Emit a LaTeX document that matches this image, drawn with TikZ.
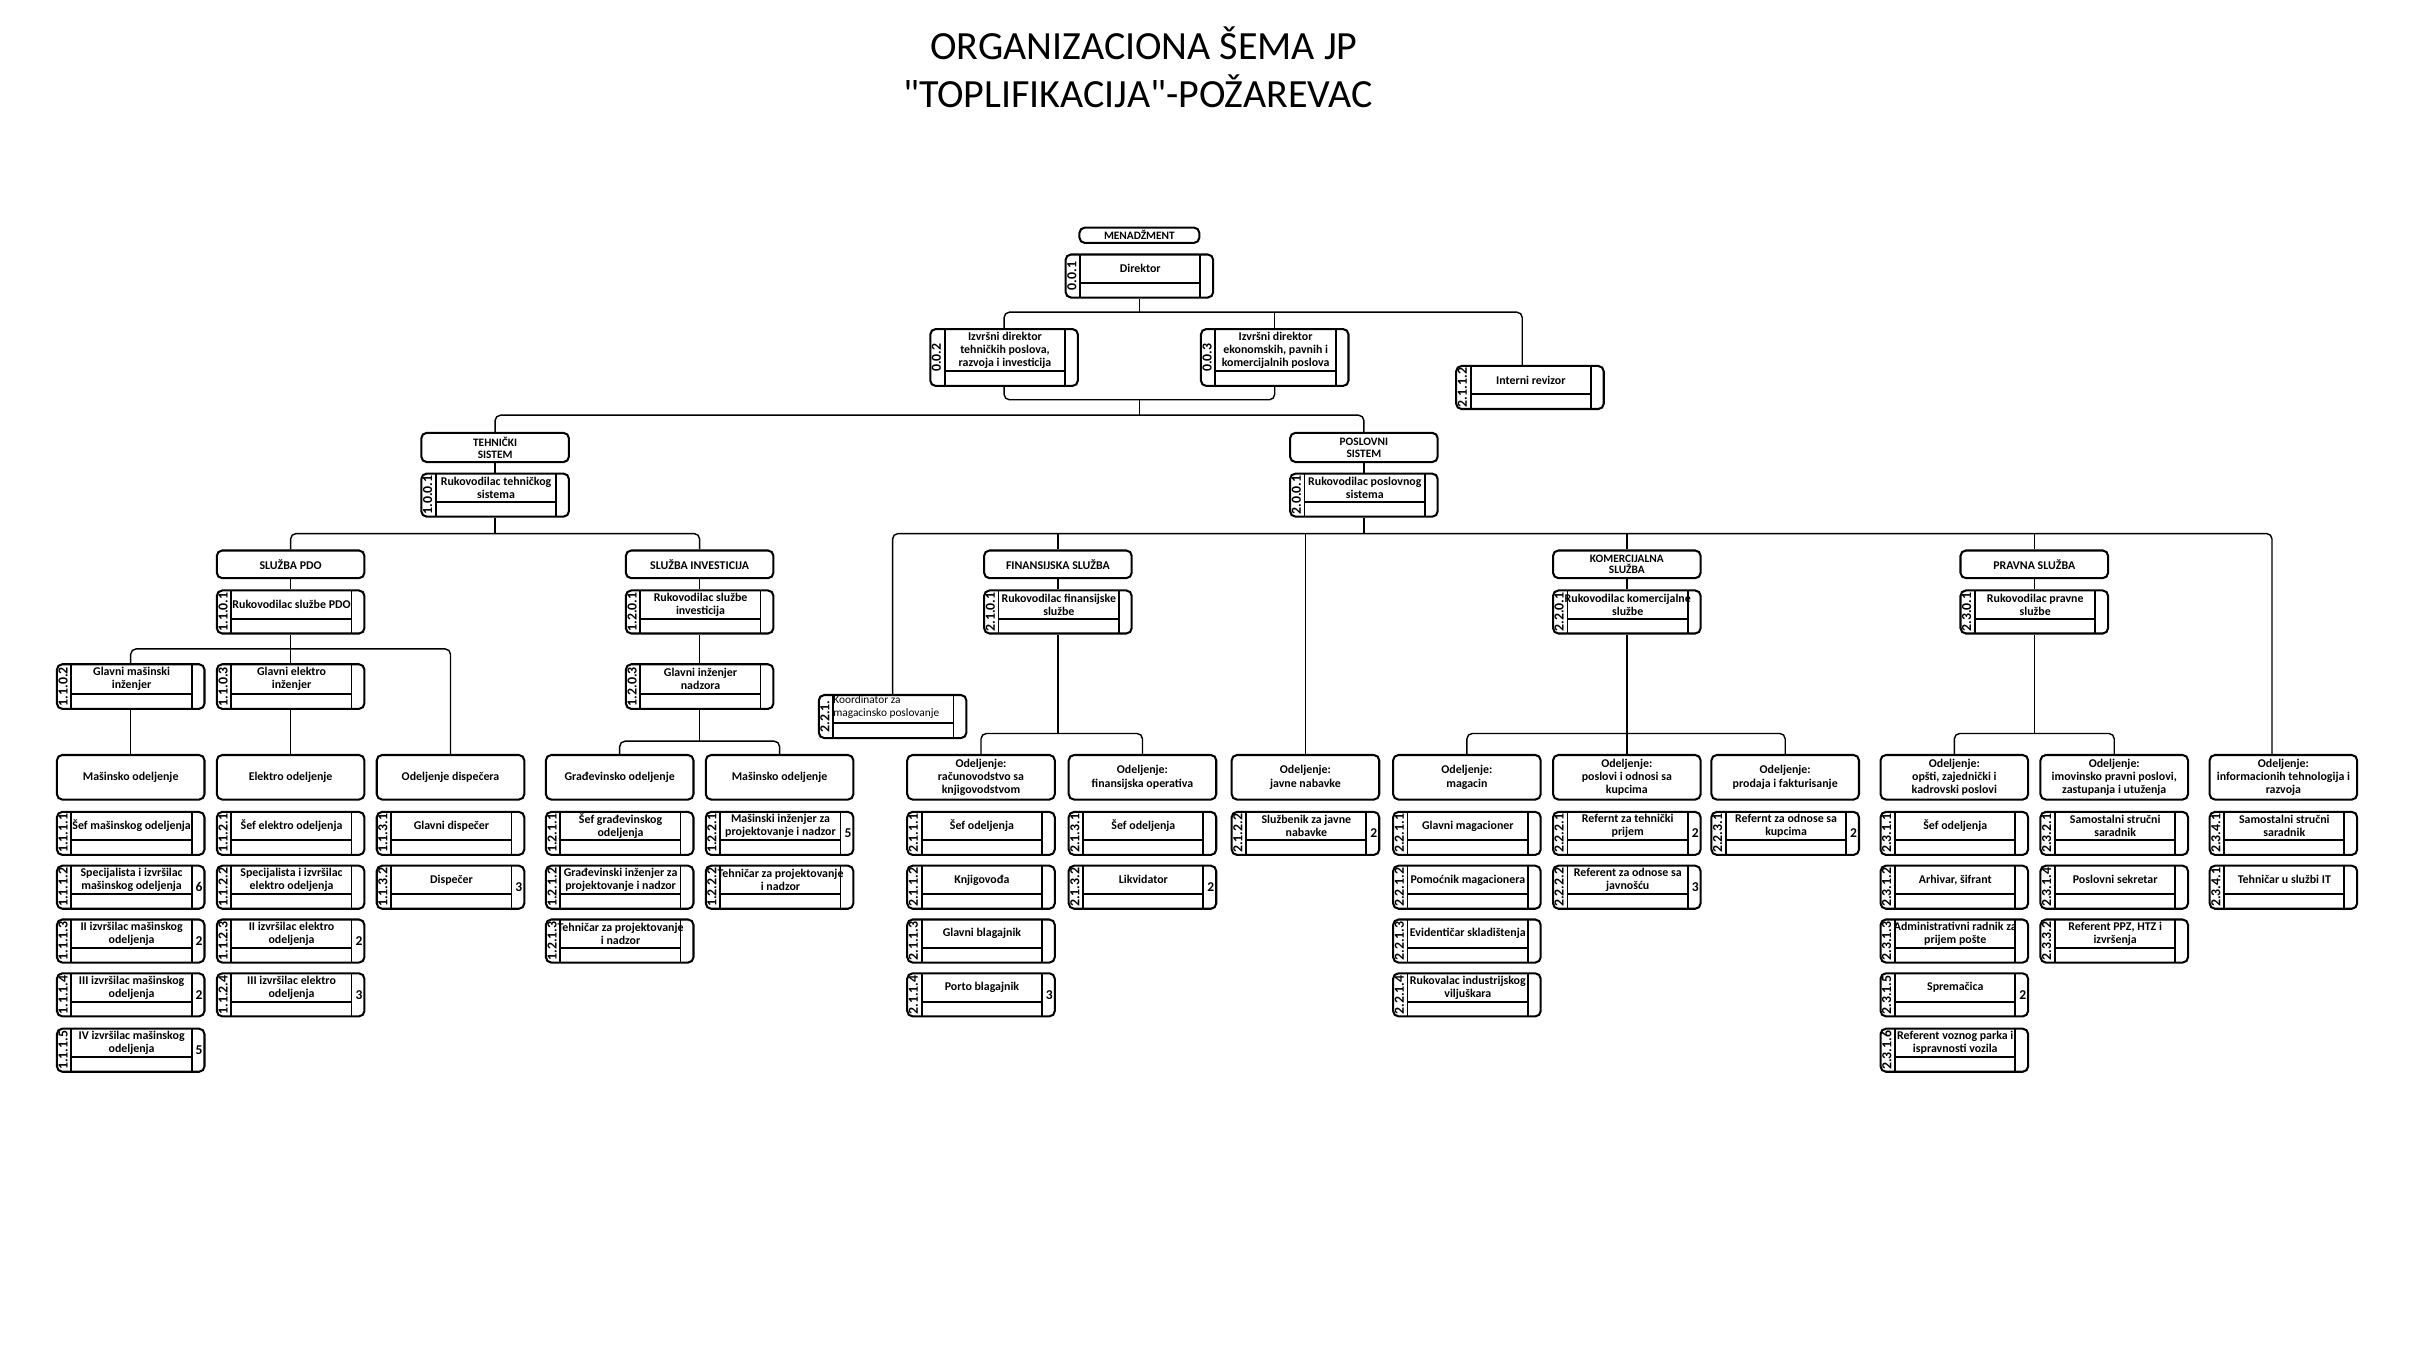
\documentclass[tikz,border=0pt]{standalone}
\usepackage{fontspec}
\setmainfont{Carlito}
\usetikzlibrary{positioning,calc}

\tikzset{
  okvir/.style={draw, line width=1.9pt, rounded corners=5pt, inner sep=0pt, align=center,
    minimum width=4.8cm, font=\bfseries\fontsize{11}{12.3}\selectfont},
  zaglavlje/.style={okvir, minimum height=0.9cm},
  odeljenje/.style={okvir, minimum height=1.45cm},
  mesto/.style={draw, line width=1.9pt, rounded corners=5pt, inner sep=0pt,
    minimum width=4.8cm, minimum height=1.4cm,
    path picture={
      \draw[line width=1.7pt]
        ([xshift=0.47cm]path picture bounding box.north west) -- ([xshift=0.47cm]path picture bounding box.south west)
        ([xshift=-0.42cm]path picture bounding box.north east) -- ([xshift=-0.42cm]path picture bounding box.south east)
        ([xshift=0.47cm,yshift=0.48cm]path picture bounding box.south west) -- ([xshift=-0.42cm,yshift=0.48cm]path picture bounding box.south east);
    }},
  sifra/.style={rotate=90, inner sep=0pt, font=\bfseries\fontsize{12.8}{12.8}\selectfont},
  naziv/.style={align=center, inner sep=0pt, font=\bfseries\fontsize{11}{12.3}\selectfont},
  broj/.style={inner sep=0pt, font=\bfseries\fontsize{12.5}{12.5}\selectfont},
  veza/.style={line width=1.3pt, rounded corners=5pt},
  naslov/.style={inner sep=0pt, font=\fontsize{37}{44}\selectfont},
}

% radno mesto: [opcije] ime, x, y, sifra, naziv, broj izvrsilaca
\newcommand{\radnomesto}[7][]{%
  \node[mesto,#1] (#2) at (#3,#4) {};
  \node[sifra] (#2-s) at ([xshift=0.235cm]#2.west) {#5};
  \node[naziv] (#2-n) at ([xshift=0.03cm,yshift=0.24cm]#2.center) {#6};
  \node[broj] (#2-b) at ([xshift=-0.21cm]#2.east) {#7};
}

\begin{document}
\begin{tikzpicture}[x=0.05cm, y=-0.05cm]

\path[use as bounding box] (0,0) rectangle (1568,890);

% Naslov
\node[naslov, anchor=base] (nas1) at (744,39) {ORGANIZACIONA ŠEMA JP};
\node[naslov, anchor=base] (nas2) at (740,70) {\textquotedbl TOPLIFIKACIJA\textquotedbl-POŽAREVAC};

% Menadzment
\node[okvir, minimum width=3.9cm, minimum height=0.5cm, font=\bfseries\fontsize{10.5}{10.5}\selectfont] (men) at (741,153) {MENADŽMENT};
\radnomesto{dir}{741}{179.5}{0.0.1}{Direktor}{}
\radnomesto[minimum height=1.85cm]{izd1}{653}{232.5}{0.0.2}{Izvršni direktor\\tehničkih poslova,\\razvoja i investicija}{}
\radnomesto[minimum height=1.85cm]{izd2}{829}{232.5}{0.0.3}{Izvršni direktor\\ekonomskih, pavnih i\\komercijalnih poslova}{}
\radnomesto{rev}{995}{252}{2.1.1.2}{Interni revizor}{}

% Sistemi
\node[zaglavlje, minimum height=0.95cm, font=\bfseries\fontsize{10.5}{11}\selectfont] (teh) at (322,291) {TEHNIČKI\\SISTEM};
\node[zaglavlje, minimum height=0.95cm, font=\bfseries\fontsize{10.5}{11}\selectfont] (pos) at (887,291) {POSLOVNI\\SISTEM};
\radnomesto{rts}{322}{322}{1.0.0.1}{Rukovodilac tehničkog\\sistema}{}
\radnomesto{rps}{887}{322}{2.0.0.1}{Rukovodilac poslovnog\\sistema}{}

% Sluzbe
\node[zaglavlje] (pdo) at (189,367) {SLUŽBA PDO};
\node[zaglavlje] (inv) at (455,367) {SLUŽBA INVESTICIJA};
\node[zaglavlje] (fin) at (688,367) {FINANSIJSKA SLUŽBA};
\node[zaglavlje, font=\bfseries\fontsize{10.5}{11}\selectfont] (kom) at (1058,367) {KOMERCIJALNA\\SLUŽBA};
\node[zaglavlje] (prav) at (1323,367) {PRAVNA SLUŽBA};

\radnomesto{rpdo}{189}{398}{1.1.0.1}{Rukovodilac službe PDO}{}
\radnomesto{rinv}{455}{398}{1.2.0.1}{Rukovodilac službe\\investicija}{}
\radnomesto{rfin}{688}{398}{2.1.0.1}{Rukovodilac finansijske\\službe}{}
\radnomesto{rkom}{1058}{398}{2.2.0.1}{Rukovodilac komercijalne\\službe}{}
\radnomesto{rprav}{1323}{398}{2.3.0.1}{Rukovodilac pravne\\službe}{}

\radnomesto[minimum height=1.45cm]{gmi}{85}{446.5}{1.1.0.2}{Glavni mašinski\\inženjer}{}
\radnomesto[minimum height=1.45cm]{gei}{189}{446.5}{1.1.0.3}{Glavni elektro\\inženjer}{}
\radnomesto[minimum height=1.45cm]{gin}{455}{446.5}{1.2.0.3}{Glavni inženjer\\nadzora}{}

% Koordinator
\node[mesto] (koord) at (580.5,466) {};
\node[sifra] (koord-s) at ([xshift=0.235cm]koord.west) {2.2.1.};
\node[naziv, font=\fontsize{10.5}{12}\selectfont, align=left, anchor=west] (koord-n) at ([xshift=0.5cm,yshift=0.3cm]koord.west) {Koordinator za\\magacinsko poslovanje};

% Odeljenja
\node[odeljenje] (mas) at (85,505.5) {Mašinsko odeljenje};
\node[odeljenje] (ele) at (189,505.5) {Elektro odeljenje};
\node[odeljenje] (dis) at (293,505.5) {Odeljenje dispečera};
\node[odeljenje] (gra) at (403,505.5) {Građevinsko odeljenje};
\node[odeljenje] (mas2) at (507,505.5) {Mašinsko odeljenje};
\node[odeljenje] (rac) at (638,505.5) {Odeljenje:\\računovodstvo sa\\knjigovodstvom};
\node[odeljenje] (fop) at (743,505.5) {Odeljenje:\\finansijska operativa};
\node[odeljenje] (jn) at (849,505.5) {Odeljenje:\\javne nabavke};
\node[odeljenje] (mag) at (954,505.5) {Odeljenje:\\magacin};
\node[odeljenje] (kup) at (1058,505.5) {Odeljenje:\\poslovi i odnosi sa\\kupcima};
\node[odeljenje] (pro) at (1161,505.5) {Odeljenje:\\prodaja i fakturisanje};
\node[odeljenje] (ops) at (1271,505.5) {Odeljenje:\\opšti, zajednički i\\kadrovski poslovi};
\node[odeljenje] (imo) at (1375,505.5) {Odeljenje:\\imovinsko pravni poslovi,\\zastupanja i utuženja};
\node[odeljenje] (it) at (1485,505.5) {Odeljenje:\\informacionih tehnologija i\\razvoja};

% Radna mesta - tehnicki sistem
\radnomesto{m11}{85}{542}{1.1.1.1}{Šef mašinskog odeljenja}{}
\radnomesto{m12}{85}{577}{1.1.1.2}{Specijalista i izvršilac\\mašinskog odeljenja}{6}
\radnomesto{m13}{85}{612}{1.1.1.3}{II izvršilac mašinskog\\odeljenja}{2}
\radnomesto{m14}{85}{647}{1.1.1.4}{III izvršilac mašinskog\\odeljenja}{2}
\radnomesto{m15}{85}{683}{1.1.1.5}{IV izvršilac mašinskog\\odeljenja}{5}

\radnomesto{e21}{189}{542}{1.1.2.1}{Šef elektro odeljenja}{}
\radnomesto{e22}{189}{577}{1.1.2.2}{Specijalista i izvršilac\\elektro odeljenja}{}
\radnomesto{e23}{189}{612}{1.1.2.3}{II izvršilac elektro\\odeljenja}{2}
\radnomesto{e24}{189}{647}{1.1.2.4}{III izvršilac elektro\\odeljenja}{3}

\radnomesto{d31}{293}{542}{1.1.3.1}{Glavni dispečer}{}
\radnomesto{d32}{293}{577}{1.1.3.2}{Dispečer}{3}

\radnomesto{g11}{403}{542}{1.2.1.1}{Šef građevinskog\\odeljenja}{}
\radnomesto{g12}{403}{577}{1.2.1.2}{Građevinski inženjer za\\projektovanje i nadzor}{}
\radnomesto{g13}{403}{612}{1.2.1.3}{Tehničar za projektovanje\\i nadzor}{}

\radnomesto{g21}{507}{542}{1.2.2.1}{Mašinski inženjer za\\projektovanje i nadzor}{5}
\radnomesto{g22}{507}{577}{1.2.2.2}{Tehničar za projektovanje\\i nadzor}{}

% Radna mesta - poslovni sistem
\radnomesto{f11}{638}{542}{2.1.1.1}{Šef odeljenja}{}
\radnomesto{f12}{638}{577}{2.1.1.2}{Knjigovođa}{}
\radnomesto{f13}{638}{612}{2.1.1.3}{Glavni blagajnik}{}
\radnomesto{f14}{638}{647}{2.1.1.4}{Porto blagajnik}{3}

\radnomesto{f31}{743}{542}{2.1.3.1}{Šef odeljenja}{}
\radnomesto{f32}{743}{577}{2.1.3.2}{Likvidator}{2}

\radnomesto{f22}{849}{542}{2.1.2.2}{Službenik za javne\\nabavke}{2}

\radnomesto{k11}{954}{542}{2.2.1.1}{Glavni magacioner}{}
\radnomesto{k12}{954}{577}{2.2.1.2}{Pomoćnik magacionera}{}
\radnomesto{k13}{954}{612}{2.2.1.3}{Evidentičar skladištenja}{}
\radnomesto{k14}{954}{647}{2.2.1.4}{Rukovalac industrijskog\\viljuškara}{}

\radnomesto{k21}{1058}{542}{2.2.2.1}{Refernt za tehnički\\prijem}{2}
\radnomesto{k22}{1058}{577}{2.2.2.2}{Referent za odnose sa\\javnošću}{3}

\radnomesto{k31}{1161}{542}{2.2.3.1}{Refernt za odnose sa\\kupcima}{2}

\radnomesto{p11}{1271}{542}{2.3.1.1}{Šef odeljenja}{}
\radnomesto{p12}{1271}{577}{2.3.1.2}{Arhivar, šifrant}{}
\radnomesto{p13}{1271}{612}{2.3.1.3}{Administrativni radnik za\\prijem pošte}{}
\radnomesto{p15}{1271}{647}{2.3.1.5}{Spremačica}{2}
\radnomesto{p16}{1271}{683}{2.3.1.6}{Referent voznog parka i\\ispravnosti vozila}{}

\radnomesto{p21}{1375}{542}{2.3.2.1}{Samostalni stručni\\saradnik}{}
\radnomesto{p14}{1375}{577}{2.3.1.4}{Poslovni sekretar}{}
\radnomesto{p32}{1375}{612}{2.3.3.2}{Referent PPZ, HTZ i\\izvršenja}{}

\radnomesto{p41}{1485}{542}{2.3.4.1}{Samostalni stručni\\saradnik}{}
\radnomesto{p42}{1485}{577}{2.3.4.1}{Tehničar u službi IT}{}

% Veze - menadzment
\coordinate (b0) at (741,203);
\draw[veza] (dir.south) -- (b0);
\draw[veza] (izd1.north) |- (b0) -| ([xshift=-0.25cm]rev.north);
\draw[veza] (izd2.north) -- (izd2.north |- b0);
\coordinate (b1) at (741,260);
\draw[veza] (izd1.south) |- (b1) -| (izd2.south);
\coordinate (b2) at (741,270);
\draw[veza] (b1) -- (b2);
\draw[veza] (teh.north) |- (b2) -| (pos.north);
\draw[veza] (teh.south) -- (rts.north);
\draw[veza] (pos.south) -- (rps.north);

% Veze - tehnicki sistem
\coordinate (b3) at (322,347);
\draw[veza] (rts.south) -- (b3);
\draw[veza] (pdo.north) |- (b3) -| (inv.north);
\draw[veza] (pdo.south) -- (rpdo.north);
\draw[veza] (inv.south) -- (rinv.north);
\coordinate (b4) at (189,422);
\draw[veza] (gmi.north) |- (b4) -| (dis.north);
\draw[veza] (rpdo.south) -- (gei.north);
\draw[veza] (gmi.south) -- (mas.north);
\draw[veza] (gei.south) -- (ele.north);
\draw[veza] (rinv.south) -- (gin.north);
\coordinate (b5) at (455,482);
\draw[veza] (gin.south) -- (b5);
\draw[veza] (gra.north) |- (b5) -| (mas2.north);

% Veze - poslovni sistem
\coordinate (b6) at (887,347);
\draw[veza] (rps.south) -- (b6);
\draw[veza] (koord.north) |- (b6) -| ([xshift=-0.37cm]it.north);
\draw[veza] (fin.north) -- (fin.north |- b6);
\draw[veza] (jn.north) -- (jn.north |- b6);
\draw[veza] (kom.north) -- (kom.north |- b6);
\draw[veza] (prav.north) -- (prav.north |- b6);
\draw[veza] (fin.south) -- (rfin.north);
\draw[veza] (kom.south) -- (rkom.north);
\draw[veza] (prav.south) -- (rprav.north);
\coordinate (b7) at (688,477);
\draw[veza] (rfin.south) -- (b7);
\draw[veza] (rac.north) |- (b7) -| (fop.north);
\coordinate (b8) at (1058,477);
\draw[veza] (mag.north) |- (b8) -| (pro.north);
\draw[veza] (rkom.south) -- (kup.north);
\coordinate (b9) at (1323,477);
\draw[veza] (rprav.south) -- (b9);
\draw[veza] (ops.north) |- (b9) -| (imo.north);

\end{tikzpicture}
\end{document}
